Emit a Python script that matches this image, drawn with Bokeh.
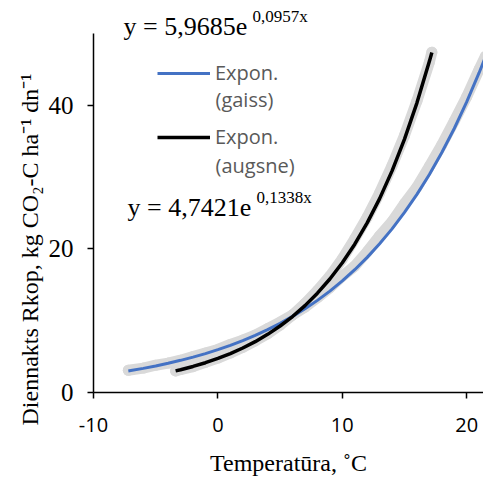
from bokeh.plotting import figure
from bokeh.models import Range1d, Label, Legend, LegendItem, FixedTicker, Title
from bokeh.embed import file_html
from bokeh.resources import INLINE

# Trend curve values
gaiss_x = [-7.2, -7, -6, -5, -4, -3, -2, -1, 0, 1, 2, 3, 4, 5, 6, 7, 8, 9, 10,
           11, 12, 13, 14, 15, 16, 17, 18, 19, 20, 21, 21.5]
gaiss_y = [3.00, 3.06, 3.36, 3.70, 4.07, 4.48, 4.93, 5.42, 5.97, 6.57, 7.23, 7.95,
           8.75, 9.63, 10.60, 11.66, 12.83, 14.12, 15.54, 17.10, 18.82, 20.71,
           22.79, 25.08, 27.60, 30.37, 33.42, 36.77, 40.47, 44.54, 46.70]
augsne_x = [-3.4, -3, -2, -1, 0, 1, 2, 3, 4, 5, 6, 7, 8, 9, 10, 11, 12, 13, 14,
            15, 16, 17, 17.2]
augsne_y = [3.01, 3.17, 3.63, 4.15, 4.74, 5.42, 6.20, 7.08, 8.10, 9.26, 10.58,
            12.10, 13.83, 15.81, 18.07, 20.66, 23.62, 27.00, 30.87, 35.29, 40.34,
            46.12, 47.36]

# Observations (grey band)
gaiss_obs_x = [-7.2, -6, -5, -4, -3, -2, -1, 0, 1, 2, 3, 4, 5, 6, 7, 8, 9, 10,
               11, 12, 13, 14, 15, 16, 17, 18, 19, 20, 21, 21.5]
gaiss_obs_y = [3.1, 3.4, 3.8, 4.1, 4.5, 5.0, 5.5, 6.0, 6.7, 7.3, 8.0, 8.9, 9.8,
               10.8, 11.9, 13.2, 14.6, 16.2, 17.6, 19.6, 21.8, 23.8, 26.3, 28.6,
               31.5, 34.5, 37.8, 41.2, 45.0, 46.8]
augsne_obs_x = [-3.4, -3, -2, -1, 0, 1, 2, 3, 4, 5, 6, 7, 8, 9, 10, 11, 12, 13,
                14, 15, 16, 17, 17.2]
augsne_obs_y = [3.0, 3.2, 3.6, 4.2, 4.8, 5.5, 6.3, 7.2, 8.2, 9.4, 10.8, 12.4,
                14.2, 16.2, 18.6, 21.4, 24.4, 27.8, 31.6, 35.8, 40.6, 46.0, 47.4]

x_ticks = [-10, 0, 10, 20]
x_tick_labels = {-10: "-10", 0: "0", 10: "10", 20: "20"}
y_ticks = [0, 20, 40]

BLUE = "#4472C4"
GREY = "#d9d9d9"
SERIF = "Liberation Serif"
SANS = "Open Sans"

FRAME_LEFT = 93
FRAME_BOTTOM = 392  # canvas pixel row of the x axis
Y_TOP = 50


def sx(cx):
    return cx - FRAME_LEFT


def sy(cy):
    return FRAME_BOTTOM - cy


p = figure(width=483, height=480, output_backend="svg", toolbar_location=None,
           x_range=Range1d(-10, 21.35), y_range=Range1d(0, Y_TOP * 392 / 359),
           min_border_left=FRAME_LEFT, min_border_right=0, min_border_top=0,
           min_border_bottom=480 - FRAME_BOTTOM)
p.grid.visible = False
p.outline_line_color = None

# grey observation band
for xs, ys in [(gaiss_obs_x, gaiss_obs_y), (augsne_obs_x, augsne_obs_y)]:
    p.line(xs, ys, line_color=GREY, line_width=11, line_cap="round", line_join="round")
    p.scatter(xs, ys, size=11, fill_color=GREY, line_color=None)

r_blue = p.line(gaiss_x, gaiss_y, line_color=BLUE, line_width=3)
r_black = p.line(augsne_x, augsne_y, line_color="black", line_width=3.5)

# axes
for ax in (p.xaxis[0], p.yaxis[0]):
    ax.axis_line_color = "black"
    ax.axis_line_width = 1.5
    ax.major_tick_line_color = "black"
    ax.major_tick_line_width = 1.5
    ax.major_tick_out = 6
    ax.major_tick_in = 0
    ax.minor_tick_out = 0
    ax.minor_tick_in = 0
    ax.major_label_text_color = "black"
    ax.axis_label_text_color = "black"
    ax.axis_label_text_font = SERIF
    ax.axis_label_text_font_style = "normal"

p.yaxis.bounds = (0, Y_TOP)
p.xaxis.ticker = FixedTicker(ticks=x_ticks)
p.xaxis.major_label_overrides = x_tick_labels
p.yaxis.ticker = FixedTicker(ticks=y_ticks)
p.xaxis.major_label_text_font = SANS
p.xaxis.major_label_text_font_size = "20px"
p.xaxis.major_label_standoff = 19
p.yaxis.major_label_text_font = SERIF
p.yaxis.major_label_text_font_size = "25px"
p.yaxis.major_label_standoff = 14

p.xaxis.axis_label = "Temperatūra, ˚C"
p.xaxis.axis_label_text_font_size = "24px"
p.xaxis.axis_label_standoff = 15

# y-axis title (vertical title on the left, starting just below the x axis level)
p.add_layout(Title(text="Diennakts Rkop, kg CO₂-C ha⁻¹ dn⁻¹", align="left",
                   offset=-33, standoff=6, text_font=SERIF, text_font_size="24px",
                   text_font_style="normal", text_color="black"), "left")

# equations (positions in screen pixels relative to the plot frame)
eqs = [("y = 5,9685e", "0,0957x", 123, 26, 252, 16),
       ("y = 4,7421e", "0,1338x", 127, 207, 256, 197)]
for main, sup, mx, my, ux, uy in eqs:
    p.add_layout(Label(x=sx(mx), y=sy(my), x_units="screen", y_units="screen",
                       text=main, text_font=SERIF, text_font_size="26px",
                       text_baseline="alphabetic", text_color="black"))
    p.add_layout(Label(x=sx(ux), y=sy(uy), x_units="screen", y_units="screen",
                       text=sup, text_font=SERIF, text_font_size="17px",
                       text_baseline="alphabetic", text_color="black"))

# legend
legend = Legend(items=[LegendItem(label="Expon.", renderers=[r_blue]),
                       LegendItem(label="Expon.", renderers=[r_black])],
                location=(157 - FRAME_LEFT, FRAME_BOTTOM - 150), orientation="vertical",
                glyph_width=53, glyph_height=20, label_height=20,
                label_standoff=5, spacing=37, padding=0, margin=0,
                border_line_alpha=0, background_fill_alpha=0,
                label_text_font=SANS, label_text_font_size="20px",
                label_text_color="#595959", label_text_baseline="middle")
p.add_layout(legend)
for txt, ty in [("(gaiss)", 99), ("(augsne)", 165)]:
    p.add_layout(Label(x=sx(215), y=sy(ty), x_units="screen", y_units="screen",
                       text=txt, text_font=SANS, text_font_size="20px",
                       text_baseline="middle", text_color="#595959"))

open("out.html", "w").write(file_html(p, INLINE))
